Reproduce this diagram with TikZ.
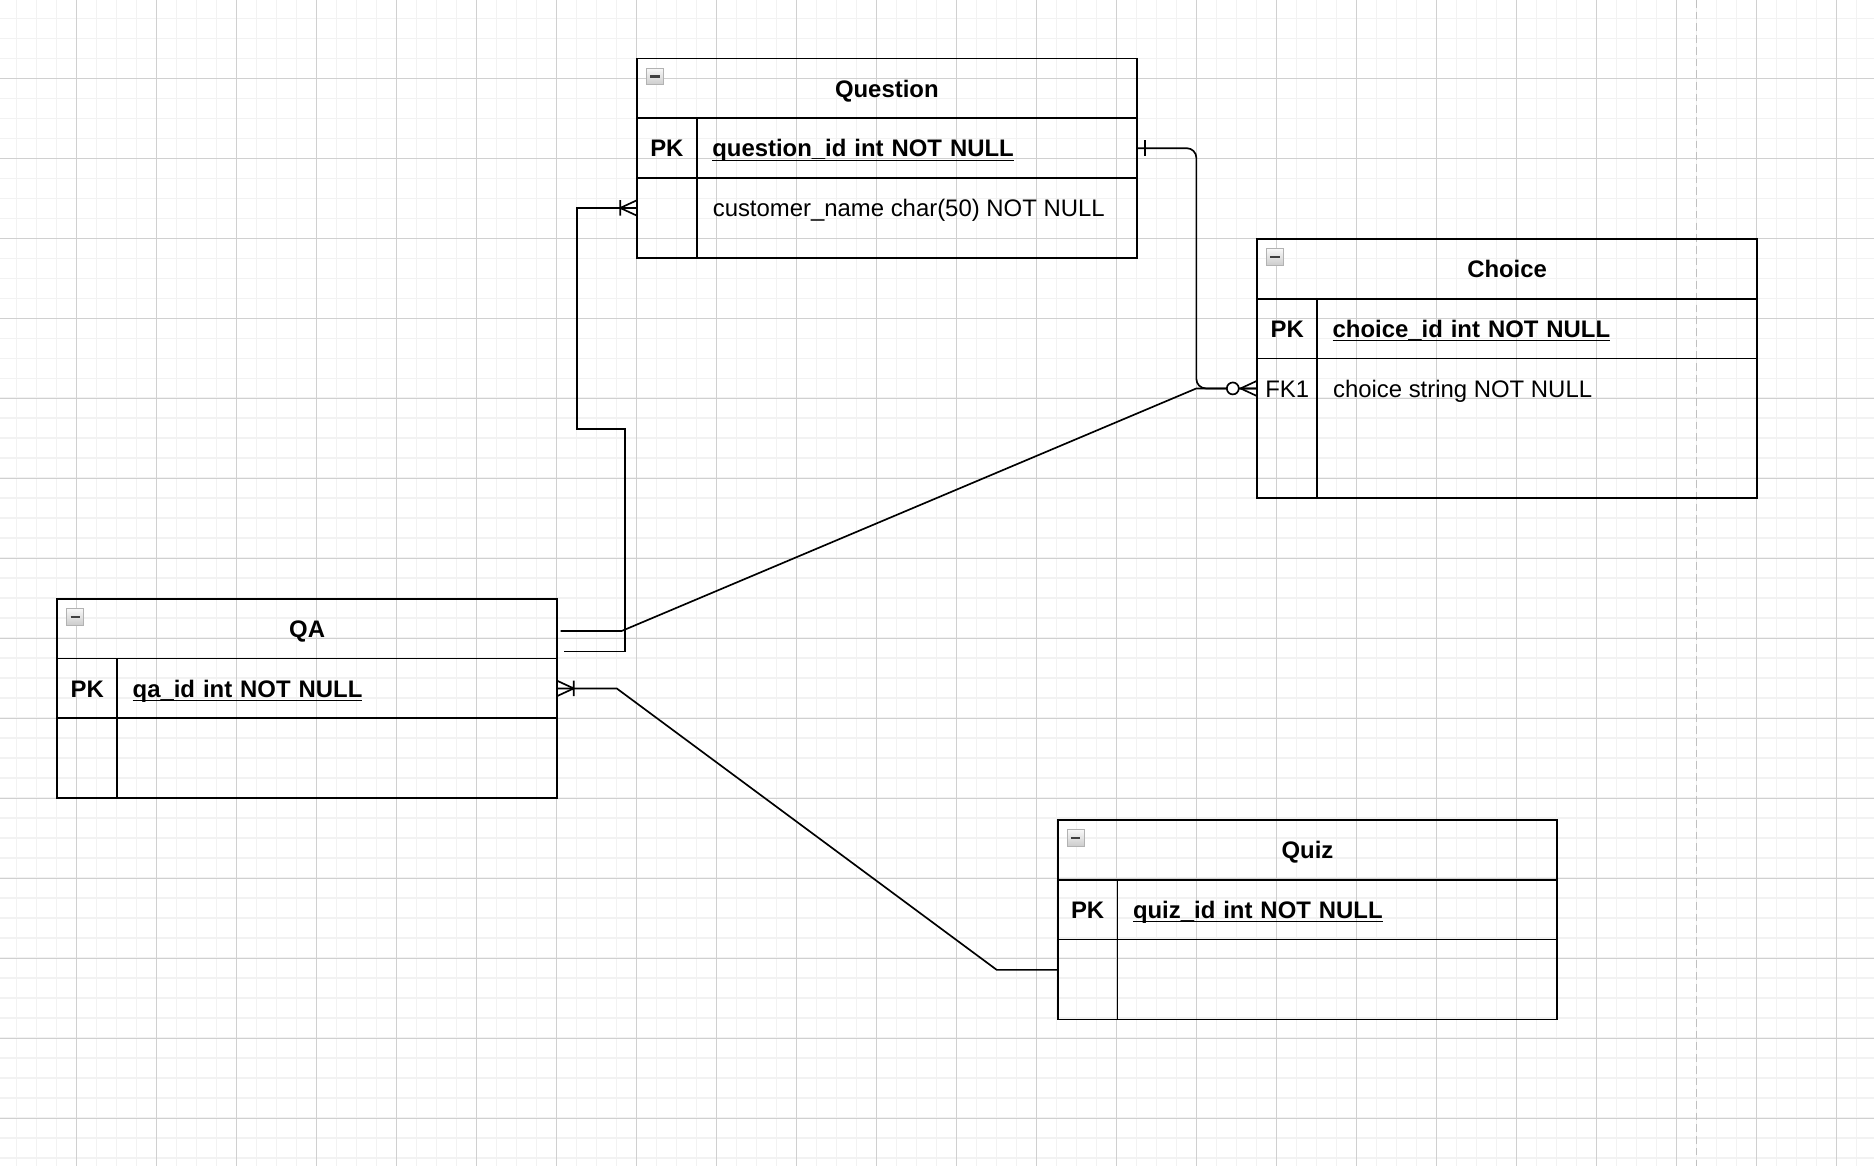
\documentclass[tikz,border=0pt]{standalone}
\usepackage{fontspec}
\setmainfont{Liberation Sans}
\definecolor{gridMinor}{HTML}{F2F2F2}
\definecolor{gridMajor}{HTML}{D0D0D0}
\definecolor{pageBreak}{HTML}{C0C0C0}
\usepackage{tikz}
\usetikzlibrary{positioning}

\begin{document}
\begin{tikzpicture}[
        x=0.5pt, y=-0.5pt,
        cell/.style={draw, line width=0.75pt, inner sep=0pt, outer sep=0pt,
                     text height=7.2pt, text depth=0pt},
        tblhead/.style={cell, minimum width=209pt, minimum height=25pt,
                        font=\bfseries, anchor=north west},
        keycell/.style={cell, minimum width=25pt, minimum height=25pt, font=\bfseries},
        fieldcell/.style={cell, minimum width=184pt, minimum height=25pt,
                          text width=171pt, inner xsep=6.5pt, align=left, font=\bfseries},
        celltxt/.style={inner sep=0pt, text height=7.2pt, text depth=0pt},
        fieldtxt/.style={celltxt, anchor=west, inner xsep=6.5pt},
        minusbox/.style={draw=gray!60, top color=gray!5, bottom color=gray!40,
                         minimum size=7pt, inner sep=0pt, outer sep=0pt, anchor=north west,
                         path picture={\draw[black!75, line width=1pt]
                           ([xshift=1.5pt]path picture bounding box.west) --
                           ([xshift=-1.5pt]path picture bounding box.east);}},
        relation/.style={line width=0.7pt},
        onebar/.pic={\draw (-7,-6.5) -- (-7,6.5);},
        onemany/.pic={\draw (-14,0) -- (0,-6.5) (-14,0) -- (0,6.5) (-14,-6.5) -- (-14,6.5);},
        zeromany/.pic={\draw (-14,0) -- (0,-6.5) (-14,0) -- (0,6.5);
                       \draw[fill=white] (-20.5,0) circle[radius=5];}
      ]
        \useasboundingbox[fill=white] (0,0) rectangle (1568,976);

        \foreach \gx in {-3,...,89}
          \draw[gridMinor, line width=0.6pt] ({64.17+16.73*\gx},0) -- ++(0,976);
        \foreach \gy in {-3,...,54}
          \draw[gridMinor, line width=0.6pt] (0,{65.5+16.73*\gy}) -- ++(1568,0);
        \foreach \gx in {0,...,22}
          \draw[gridMajor, line width=0.5pt] ({64.17+66.93*\gx},0) -- ++(0,976);
        \foreach \gy in {0,...,13}
          \draw[gridMajor, line width=0.5pt] (0,{65.5+66.93*\gy}) -- ++(1568,0);
        \draw[pageBreak, line width=0.7pt, dash pattern=on 3.2pt off 1.7pt]
          (1419.6,0) -- (1419.6,976);

        \node[tblhead] (qnhead) at (533,49) {Question};
        \node[minusbox] (qnicon) at ([shift={(4pt,-4pt)}]qnhead.north west) {};
        \node[keycell, below right=0pt of qnhead.south west] (qnkey) {PK};
        \node[fieldcell, right=0pt of qnkey] (qnid) {\underline{\smash{question\_id int NOT NULL}}};
        \node[keycell, minimum height=33.5pt, below=0pt of qnkey] (qnkey2) {};
        \node[fieldcell, minimum height=33.5pt, below=0pt of qnid] (qnfld2) {};
        \node[fieldtxt] (qnname) at ([yshift=-12.5pt]qnfld2.north west) {customer\_name char(50) NOT NULL};

        \node[tblhead] (chhead) at (1052,200) {Choice};
        \node[minusbox] (chicon) at ([shift={(4pt,-4pt)}]chhead.north west) {};
        \node[keycell, below right=0pt of chhead.south west] (chkey) {PK};
        \node[fieldcell, right=0pt of chkey] (chid) {\underline{\smash{choice\_id int NOT NULL}}};
        \node[keycell, minimum height=58.5pt, below=0pt of chkey] (chkey2) {};
        \node[fieldcell, minimum height=58.5pt, below=0pt of chid] (chfld2) {};
        \node[celltxt] (chfk) at ([yshift=-12.5pt]chkey2.north) {FK1};
        \node[fieldtxt] (chtext) at ([yshift=-12.5pt]chfld2.north west) {choice string NOT NULL};

        \node[tblhead] (qahead) at (48,501) {QA};
        \node[minusbox] (qaicon) at ([shift={(4pt,-4pt)}]qahead.north west) {};
        \node[keycell, below right=0pt of qahead.south west] (qakey) {PK};
        \node[fieldcell, right=0pt of qakey] (qaid) {\underline{\smash{qa\_id int NOT NULL}}};
        \node[keycell, minimum height=33.5pt, below=0pt of qakey] (qakey2) {};
        \node[fieldcell, minimum height=33.5pt, below=0pt of qaid] (qafld2) {};

        \node[tblhead] (qzhead) at (885,686) {Quiz};
        \node[minusbox] (qzicon) at ([shift={(4pt,-4pt)}]qzhead.north west) {};
        \node[keycell, below right=0pt of qzhead.south west] (qzkey) {PK};
        \node[fieldcell, right=0pt of qzkey] (qzid) {\underline{\smash{quiz\_id int NOT NULL}}};
        \node[keycell, minimum height=33.5pt, below=0pt of qzkey] (qzkey2) {};
        \node[fieldcell, minimum height=33.5pt, below=0pt of qzid] (qzfld2) {};

        \coordinate (chend) at (chfk -| chkey2.west);
        \coordinate (qnend) at (qnname -| qnkey2.west);
        \coordinate (qzend) at ([yshift=4pt]qzkey2.west);

        \draw[relation, rounded corners=4pt] (qnid.east) -- ++(50,0) |- (chend);
        \draw[relation] ([xshift=1.5pt,yshift=-1pt]qahead.east) -- ++(51,0)
          -- ([xshift=-25.5pt]chend) -- (chend);
        \draw[relation] ([xshift=3pt,yshift=3pt]qahead.south east) -- ++(51,0)
          -- ++(0,-186) -- ++(-40,0) |- (qnend);
        \draw[relation] (qaid.east) -- ++(50,0) -- ([xshift=-25.5pt]qzend) -- (qzend);

        \pic[relation, rotate=180] at (qnid.east) {onebar};
        \pic[relation] at (chend) {zeromany};
        \pic[relation] at (qnend) {onemany};
        \pic[relation, rotate=180] at (qaid.east) {onemany};
      \end{tikzpicture}
\end{document}
